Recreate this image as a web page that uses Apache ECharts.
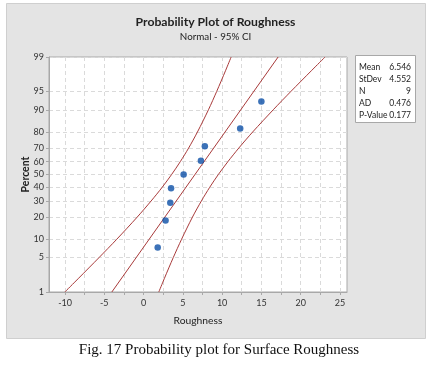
<!DOCTYPE html>
<html>
<head>
<meta charset="utf-8">
<script src="https://cdn.jsdelivr.net/npm/echarts@6/dist/echarts.min.js"></script>
<style>html,body{margin:0;padding:0;background:#fff;}#c{width:437px;height:367px;}</style>
</head>
<body>
<div id="c"></div>
<script>
// ---- data ----
const roughness = [1.8, 2.8, 3.4, 3.5, 5.1, 7.3, 7.8, 12.3, 15.0];
const percentRank = [7.45, 18.09, 28.72, 39.36, 50.0, 60.64, 71.28, 81.91, 92.55];
const fitX = [-4.04, 17.13];
const fitP = [1, 99];
const ciP = [1, 2, 5, 10, 20, 30, 40, 50, 60, 70, 80, 90, 95, 98, 99];
const ciLower = [-10.02, -8.27, -5.67, -3.41, -0.80, 0.96, 2.37, 3.57, 4.67, 5.74, 6.86, 8.26, 9.31, 10.43, 11.15];
const ciUpper = [1.94, 2.66, 3.78, 4.84, 6.23, 7.36, 8.42, 9.52, 10.73, 12.13, 13.89, 16.51, 18.76, 21.36, 23.11];
const yTickPct = [1, 5, 10, 20, 30, 40, 50, 60, 70, 80, 90, 95, 99];
const xLabelVals = [-10, -5, 0, 5, 10, 15, 20, 25];
const xGridVals = [-10, -7.5, -5, -2.5, 0, 2.5, 5, 7.5, 10, 12.5, 15, 17.5, 20, 22.5, 25];
const statNames = ['Mean', 'StDev', 'N', 'AD', 'P-Value'];
const statValues = ['6.546', '4.552', '9', '0.476', '0.177'];

// normal probability scale transform (percent -> z)
function probit(p) {
  const a = [-3.969683028665376e+01, 2.209460984245205e+02, -2.759285104469687e+02, 1.383577518672690e+02, -3.066479806614716e+01, 2.506628277459239e+00];
  const b = [-5.447609879822406e+01, 1.615858368580409e+02, -1.556989798598866e+02, 6.680131188771972e+01, -1.328068155288572e+01];
  const c = [-7.784894002430293e-03, -3.223964580411365e-01, -2.400758277161838e+00, -2.549732539343734e+00, 4.374664141464968e+00, 2.938163982698783e+00];
  const d = [7.784695709041462e-03, 3.224671290700398e-01, 2.445134137142996e+00, 3.754408661907416e+00];
  const pl = 0.02425, ph = 1 - pl;
  let q, r;
  if (p < pl) { q = Math.sqrt(-2 * Math.log(p)); return (((((c[0]*q+c[1])*q+c[2])*q+c[3])*q+c[4])*q+c[5]) / ((((d[0]*q+d[1])*q+d[2])*q+d[3])*q+1); }
  if (p <= ph) { q = p - 0.5; r = q*q; return (((((a[0]*r+a[1])*r+a[2])*r+a[3])*r+a[4])*r+a[5])*q / (((((b[0]*r+b[1])*r+b[2])*r+b[3])*r+b[4])*r+1); }
  q = Math.sqrt(-2 * Math.log(1 - p)); return -(((((c[0]*q+c[1])*q+c[2])*q+c[3])*q+c[4])*q+c[5]) / ((((d[0]*q+d[1])*q+d[2])*q+d[3])*q+1);
}
const z = p => probit(p / 100);
const yTickZ = yTickPct.map(z);

const chart = echarts.init(document.getElementById('c'), null, {renderer: 'canvas'});
const font = 'Lato, "Open Sans", sans-serif';
const lineColor = '#a83a3a';

const statTexts = [];
statNames.forEach((n, i) => {
  statTexts.push({type: 'text', x: 359, y: 67 + i * 12.1, style: {text: n, font: '8.5px ' + font, fill: '#222', textAlign: 'left', textVerticalAlign: 'middle'}, z: 10});
  statTexts.push({type: 'text', x: 411, y: 67 + i * 12.1, style: {text: statValues[i], font: '8.5px ' + font, fill: '#222', textAlign: 'right', textVerticalAlign: 'middle'}, z: 10});
});

chart.setOption({
  animation: false,
  backgroundColor: '#ffffff',
  graphic: [
    {type: 'rect', shape: {x: 6.5, y: 3.5, width: 419, height: 335}, style: {fill: '#e4e4e4', stroke: '#cfcfcf', lineWidth: 1}, z: -10},
    {type: 'text', x: 215.5, y: 22.5, style: {text: 'Probability Plot of Roughness', font: 'bold 12.2px ' + font, fill: '#222', textAlign: 'center', textVerticalAlign: 'middle'}, z: 10},
    {type: 'text', x: 215.5, y: 37, style: {text: 'Normal - 95% CI', font: '9.8px ' + font, fill: '#222', textAlign: 'center', textVerticalAlign: 'middle'}, z: 10},
    {type: 'rect', shape: {x: 355.5, y: 55.5, width: 60, height: 67}, style: {fill: '#ffffff', stroke: '#a8a8a8', lineWidth: 1}, z: 9},
    ...statTexts,
    {type: 'text', x: 219, y: 350, style: {text: 'Fig. 17 Probability plot for Surface Roughness', font: '15px "Liberation Serif", "Times New Roman", serif', fill: '#111', textAlign: 'center', textVerticalAlign: 'middle'}, z: 10}
  ],
  grid: {left: 49, top: 57, width: 298, height: 235, show: true, backgroundColor: '#ffffff', borderColor: '#a8a8a8', borderWidth: 1},
  xAxis: {
    type: 'value', min: -12.04, max: 25.9,
    name: 'Roughness', nameLocation: 'middle', nameGap: 24, nameMoveOverlap: false,
    nameTextStyle: {fontFamily: font, fontSize: 10.3, color: '#222'},
    axisLine: {show: true, onZero: false, lineStyle: {color: '#a8a8a8'}},
    axisTick: {show: true, customValues: xGridVals, length: 3, lineStyle: {color: '#a8a8a8'}},
    axisLabel: {customValues: xLabelVals, fontFamily: font, fontSize: 9, color: '#333', margin: 7},
    splitLine: {show: true, lineStyle: {color: '#dadada', type: [4, 3]}}
  },
  yAxis: {
    type: 'value', min: z(1), max: z(99),
    name: 'Percent', nameLocation: 'middle', nameGap: 17.5, nameRotate: 90, nameMoveOverlap: false,
    nameTextStyle: {fontFamily: font, fontSize: 10.5, fontWeight: 'bold', color: '#222'},
    axisLine: {show: true, onZero: false, lineStyle: {color: '#a8a8a8'}},
    axisTick: {show: true, customValues: yTickZ, length: 3, lineStyle: {color: '#a8a8a8'}},
    axisLabel: {customValues: yTickZ, fontFamily: font, fontSize: 9, color: '#333', margin: 5,
      formatter: v => { let bi = 0; yTickZ.forEach((t, i) => { if (Math.abs(t - v) < Math.abs(yTickZ[bi] - v)) bi = i; }); return String(yTickPct[bi]); }},
    splitLine: {show: true, lineStyle: {color: '#dadada', type: [4, 3]}}
  },
  series: [
    {type: 'line', data: ciLower.map((x, i) => [x, z(ciP[i])]), smooth: 0.3, showSymbol: false, symbol: 'none', lineStyle: {color: lineColor, width: 1}, clip: true},
    {type: 'line', data: ciUpper.map((x, i) => [x, z(ciP[i])]), smooth: 0.3, showSymbol: false, symbol: 'none', lineStyle: {color: lineColor, width: 1}, clip: true},
    {type: 'line', data: fitX.map((x, i) => [x, z(fitP[i])]), showSymbol: false, symbol: 'none', lineStyle: {color: lineColor, width: 1}, clip: true},
    {type: 'scatter', data: roughness.map((x, i) => [x, z(percentRank[i])]), symbolSize: 6.5, itemStyle: {color: '#0b4fa6'}, z: 5}
  ]
});
</script>
</body>
</html>
